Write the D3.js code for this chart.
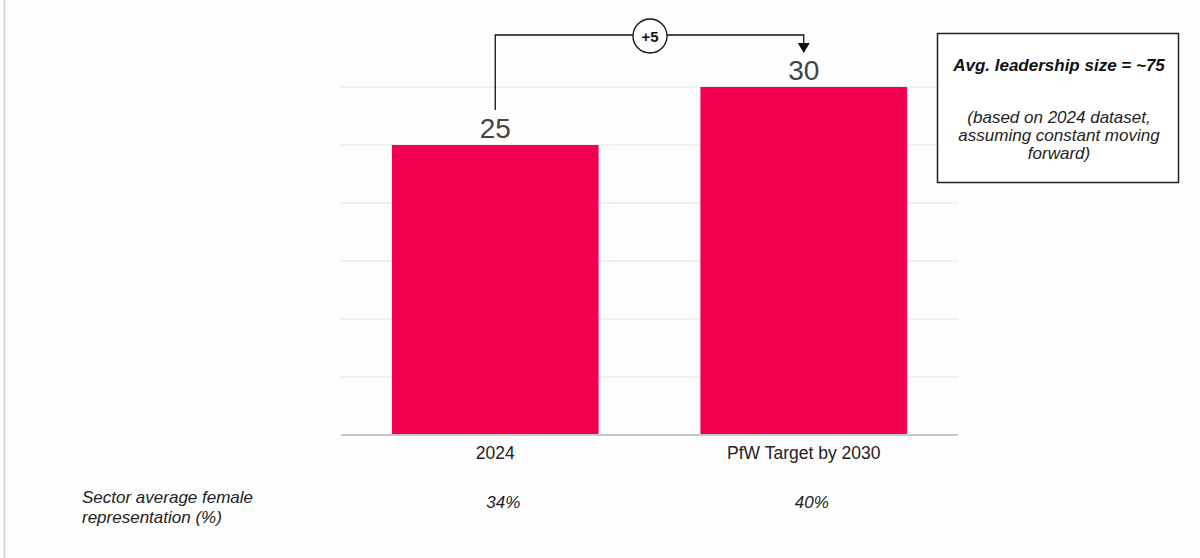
<!DOCTYPE html>
<html><head><meta charset="utf-8">
<script src="https://cdn.jsdelivr.net/npm/d3@7"></script>
<style>
body{margin:0;background:#fff;}
svg{display:block;font-family:"Liberation Sans",Arial,sans-serif;}
</style></head>
<body>
<svg id="chart" width="1200" height="558"></svg>
<script>
const categories = ["2024", "PfW Target by 2030"];
const values = [25, 30];
const sectorAvg = ["34%", "40%"];
const yTicks = [0, 5, 10, 15, 20, 25, 30];
const deltaLabel = "+5";
const sectorLabel = ["Sector average female", "representation (%)"];
const boxTitle = "Avg. leadership size = ~75";
const boxLines = ["(based on 2024 dataset,", "assuming constant moving", "forward)"];

const svg = d3.select("#chart");
const W = 1200, H = 558;
svg.append("rect").attr("width", W).attr("height", H).attr("fill", "#fdfdfd");
svg.append("line").attr("x1", 4.5).attr("x2", 4.5).attr("y1", 0).attr("y2", H)
  .attr("stroke", "#cfcfcf").attr("stroke-width", 1.5);

const x = d3.scaleBand().domain(categories).range([341, 958]).paddingInner(0.33).paddingOuter(0.165);
const y = d3.scaleLinear().domain([0, 30]).range([435, 87]);

// gridlines
svg.append("g").selectAll("line").data(yTicks.filter(d => d > 0)).join("line")
  .attr("x1", 341).attr("x2", 958).attr("y1", d => y(d)).attr("y2", d => y(d))
  .attr("stroke", "#ebebeb").attr("stroke-width", 1.5);

// bars
svg.append("g").selectAll("rect").data(values).join("rect")
  .attr("x", (d, i) => x(categories[i])).attr("width", x.bandwidth())
  .attr("y", d => y(d)).attr("height", d => y(0) - y(d))
  .attr("fill", "#f2004f");

// baseline
svg.append("line").attr("x1", 341).attr("x2", 958).attr("y1", y(0)).attr("y2", y(0))
  .attr("stroke", "#c8c8c8").attr("stroke-width", 2);

// x axis labels
const xAxis = d3.axisBottom(x).tickSize(0).tickPadding(12);
const gx = svg.append("g").attr("transform", `translate(0,${y(0)})`).call(xAxis);
gx.select(".domain").remove();
gx.selectAll("text").attr("font-size", 17.5).attr("fill", "#222").style("font-family", '"Liberation Sans",Arial,sans-serif');

// value labels
svg.append("g").selectAll("text").data(values).join("text")
  .attr("x", (d, i) => x(categories[i]) + x.bandwidth() / 2)
  .attr("y", d => y(d) - 7)
  .attr("text-anchor", "middle").attr("font-size", 28).attr("fill", "#444")
  .text(d => d);

// bracket arrow
const cx0 = x(categories[0]) + x.bandwidth() / 2;
const cx1 = x(categories[1]) + x.bandwidth() / 2;
const topY = 35;
svg.append("path")
  .attr("d", `M${cx0},${y(values[0]) - 35} V${topY} H${cx1} V${y(values[1]) - 40}`)
  .attr("fill", "none").attr("stroke", "#111").attr("stroke-width", 1.3);
svg.append("path")
  .attr("d", `M${cx1 - 6},${y(values[1]) - 44} L${cx1 + 6},${y(values[1]) - 44} L${cx1},${y(values[1]) - 34} Z`)
  .attr("fill", "#111");
const mx = (cx0 + cx1) / 2 + 0.5;
svg.append("circle").attr("cx", mx).attr("cy", topY + 1).attr("r", 17)
  .attr("fill", "#fff").attr("stroke", "#111").attr("stroke-width", 1.3);
svg.append("text").attr("x", mx).attr("y", topY + 6.5).attr("text-anchor", "middle")
  .attr("font-size", 15).attr("font-weight", "bold").attr("fill", "#111").text(deltaLabel);

// sector avg row
svg.append("text").attr("x", 82).attr("font-size", 17).attr("font-style", "italic").attr("fill", "#222")
  .selectAll("tspan").data(sectorLabel).join("tspan")
  .attr("x", 82).attr("y", (d, i) => 503 + i * 20).text(d => d);
svg.append("g").selectAll("text").data(sectorAvg).join("text")
  .attr("x", (d, i) => x(categories[i]) + x.bandwidth() / 2 + 8)
  .attr("y", 508).attr("text-anchor", "middle").attr("font-size", 17)
  .attr("font-style", "italic").attr("fill", "#222").text(d => d);

// info box
svg.append("rect").attr("x", 937.5).attr("y", 33.5).attr("width", 241).attr("height", 149)
  .attr("fill", "#fff").attr("stroke", "#222").attr("stroke-width", 1.5);
svg.append("text").attr("x", 1059).attr("y", 71).attr("text-anchor", "middle")
  .attr("font-size", 17).attr("font-weight", "bold").attr("font-style", "italic").attr("fill", "#111")
  .text(boxTitle);
svg.append("g").selectAll("text").data(boxLines).join("text")
  .attr("x", 1059).attr("y", (d, i) => 123 + i * 18).attr("text-anchor", "middle")
  .attr("font-size", 17).attr("font-style", "italic").attr("fill", "#222").text(d => d);
</script>
</body></html>
